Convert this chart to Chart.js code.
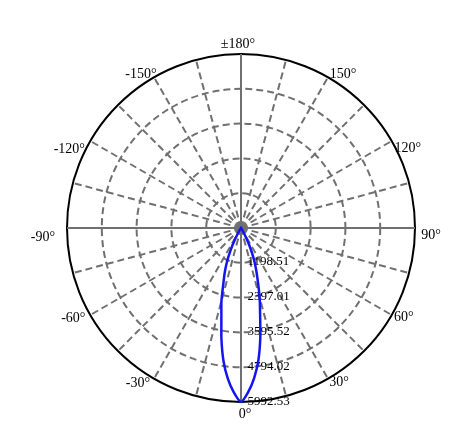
<!DOCTYPE html>
<html><head><meta charset="utf-8">
<script src="https://cdn.jsdelivr.net/npm/chart.js@4/dist/chart.umd.min.js"></script>
<style>html,body{margin:0;padding:0;background:#fff;}canvas{display:block;}</style>
</head><body>
<canvas id="c" width="476" height="435"></canvas>
<script>
// ---- data ----
const beamAngles = [-35, -32.5, -30, -27.5, -25, -22.5, -20, -17.5, -15, -12.5, -10, -7.5, -5, -2.5, 0,
                    2.5, 5, 7.5, 10, 12.5, 15, 17.5, 20, 22.5, 25, 27.5, 30, 32.5, 35];
const beamValues = [0, 60, 200, 470, 860, 1260, 1640, 2030, 2600, 3120, 3880, 4620, 5210, 5670, 5992.53,
                    5660, 5190, 4590, 3830, 3040, 2480, 1930, 1520, 1150, 760, 400, 160, 45, 0];
const ringValues = [1198.51, 2397.01, 3595.52, 4794.02, 5992.53];
const ringLabels = ['1198.51', '2397.01', '3595.52', '4794.02', '5992.53'];
const angleLabelValues = [180, 150, 120, 90, 60, 30, 0, -30, -60, -90, -120, -150];
const angleLabelTexts = ['±180°', '150°', '120°', '90°', '60°', '30°', '0°', '-30°', '-60°', '-90°', '-120°', '-150°'];
const maxIntensity = 5992.53;
const angleStep = 2.5;

// category axis: angles clockwise from the top (180) through the right (90), bottom (0), left (-90)
const categories = [];
for (let a = 180; a > -180; a -= angleStep) categories.push(a);
const series = categories.map(a => {
  const i = beamAngles.indexOf(a);
  return i >= 0 ? beamValues[i] : 0;
});

// label nudges (layout only): offset of text centre from the outer-circle point
const labelNudge = {
  '180': [-3, -11], '150': [15, -4], '120': [16, 6], '90': [16, 6], '60': [12, 1], '30': [11, 3],
  '0': [4, 11], '-30': [-16, 4], '-60': [-17, 2], '-90': [-24, 8], '-120': [-21, 7], '-150': [-13, -4]
};

const labelsPlugin = {
  id: 'polarLabels',
  beforeDatasetsDraw(chart) {
    const s = chart.scales.r;
    const ctx = chart.ctx;
    ctx.save();
    ctx.fillStyle = '#000';
    ctx.font = '13px "Liberation Serif", "Times New Roman", serif';
    ctx.textAlign = 'left';
    ctx.textBaseline = 'alphabetic';
    ringValues.forEach((v, i) => {
      const d = s.getDistanceFromCenterForValue(v);
      ctx.fillText(ringLabels[i], s.xCenter + 6.5, s.yCenter + d + 2.5);
    });
    ctx.font = '14px "Liberation Serif", "Times New Roman", serif';
    ctx.textAlign = 'center';
    const n = categories.length;
    angleLabelValues.forEach((a, i) => {
      const idx = ((Math.round((180 - a) / angleStep)) % n + n) % n;
      const p = s.getPointPosition(idx, s.drawingArea);
      const nd = labelNudge[String(a)] || [0, 0];
      ctx.fillText(angleLabelTexts[i], p.x + nd[0], p.y + nd[1] + 4.7);
    });
    ctx.restore();
  }
};

new Chart(document.getElementById('c'), {
  type: 'radar',
  data: {
    labels: categories,
    datasets: [{
      data: series,
      borderColor: '#1414f0',
      borderWidth: 2.5,
      backgroundColor: 'rgba(0,0,0,0)',
      fill: false,
      pointRadius: 0,
      pointHoverRadius: 0,
      tension: 0.2
    }]
  },
  options: {
    responsive: false,
    animation: false,
    devicePixelRatio: 1,
    layout: { padding: { left: 67, right: 61, top: 54, bottom: 33 } },
    plugins: { legend: { display: false }, tooltip: { enabled: false } },
    scales: {
      r: {
        min: 0,
        max: maxIntensity,
        startAngle: 0,
        ticks: { display: false, count: 6 },
        pointLabels: { display: false },
        grid: {
          circular: true,
          color: c => (c.index === 5 ? '#000000' : '#707070'),
          lineWidth: 2
        },
        border: {
          dash: c => (c.index === 5 ? [] : [7, 4])
        },
        angleLines: {
          display: true,
          color: '#707070',
          lineWidth: c => (c.index % 6 === 0 ? 2 : 0),
          borderDash: c => (c.index % 36 === 0 ? [] : [7, 4])
        }
      }
    }
  },
  plugins: [labelsPlugin]
});
</script>
</body></html>
